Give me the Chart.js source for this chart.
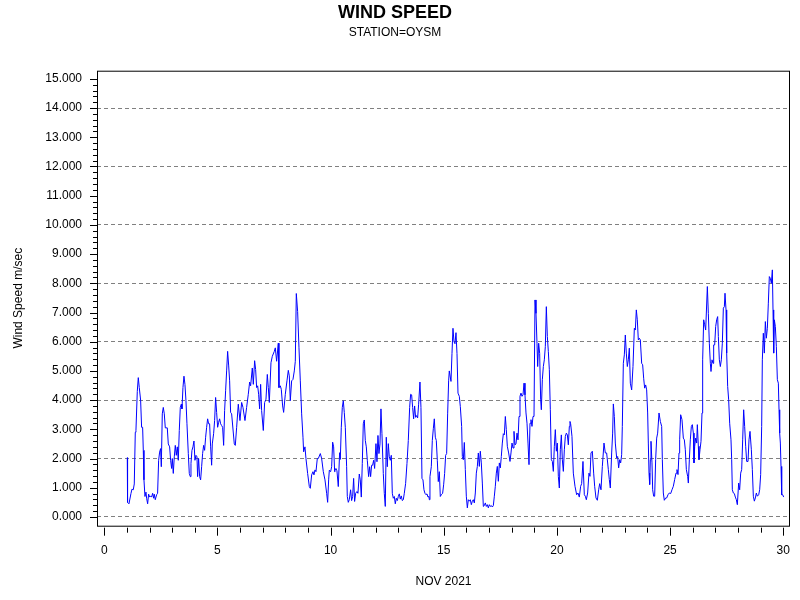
<!DOCTYPE html>
<html lang="en">
<head>
    <meta charset="UTF-8">
    <title>Wind Speed</title>
    <script src="https://cdn.jsdelivr.net/npm/chart.js"></script>
    <style>
        body { margin: 0; background: #fff; }
        #chart { display: block; }
    </style>
</head>
<body>
    <canvas id="chart" width="800" height="600"></canvas>

    <script>
        // Hourly-ish readings, x = day of November 2021, y = wind speed (m/sec)
        const days = [
            1.018, 1.030, 1.092, 1.180, 1.224, 1.283, 1.327, 1.372, 1.401, 1.460, 1.504, 1.548, 1.607, 1.651, 1.696, 1.725, 1.755, 1.799, 1.843, 1.872, 1.917, 1.961,
            2.005, 2.049, 2.093, 2.138, 2.182, 2.211, 2.255, 2.314, 2.358, 2.403, 2.447, 2.491, 2.521, 2.565, 2.609, 2.653, 2.697, 2.786, 2.830, 2.889, 2.933, 2.977,
            3.007, 3.051, 3.095, 3.139, 3.183, 3.228, 3.272, 3.316, 3.360, 3.404, 3.434, 3.478, 3.522, 3.566, 3.611, 3.655, 3.714, 3.758, 3.802, 3.832, 3.876, 3.920, 3.964,
            4.008, 4.052, 4.097, 4.126, 4.170, 4.214, 4.259, 4.303, 4.347, 4.391, 4.435, 4.480, 4.524, 4.568, 4.612, 4.656, 4.701, 4.745, 4.774, 4.833, 4.877, 4.921, 4.966,
            5.010, 5.054, 5.098, 5.142, 5.187, 5.231, 5.275, 5.319, 5.363, 5.408, 5.452, 5.496, 5.540, 5.584, 5.629, 5.746, 5.791, 5.850, 5.923, 5.997,
            6.071, 6.129, 6.218, 6.291, 6.365, 6.424, 6.468, 6.542, 6.586, 6.645, 6.689, 6.733, 6.778, 6.822, 6.866, 6.910, 6.954,
            7.028, 7.087, 7.146, 7.205, 7.249, 7.293, 7.367, 7.426, 7.514, 7.558, 7.617, 7.691, 7.720, 7.779, 7.823, 7.882, 7.926,
            8.000, 8.074, 8.133, 8.177, 8.221, 8.280, 8.339, 8.398, 8.442, 8.486, 8.545, 8.604, 8.663, 8.722, 8.781, 8.810, 8.869, 8.913, 8.987,
            9.061, 9.105, 9.164, 9.223, 9.267, 9.311, 9.355, 9.414, 9.458, 9.547, 9.606, 9.679, 9.753, 9.827, 9.871, 9.915, 9.945,
            10.003, 10.048, 10.092, 10.136, 10.180, 10.194, 10.238, 10.282, 10.341, 10.400, 10.430, 10.474, 10.518, 10.562, 10.606, 10.651, 10.710, 10.739, 10.783, 10.827, 10.886, 10.930, 10.975,
            11.019, 11.063, 11.107, 11.166, 11.210, 11.269, 11.313, 11.358, 11.402, 11.446, 11.490, 11.534, 11.579, 11.623, 11.682, 11.726, 11.770, 11.814, 11.858, 11.903, 11.947,
            12.006, 12.050, 12.094, 12.138, 12.183, 12.227, 12.271, 12.330, 12.374, 12.418, 12.462, 12.507, 12.551, 12.595, 12.639, 12.683, 12.728, 12.772, 12.816, 12.860, 12.904, 12.949, 12.993,
            13.037, 13.081, 13.125, 13.169, 13.214, 13.258, 13.317, 13.376, 13.435, 13.494, 13.538, 13.582, 13.626, 13.670, 13.714, 13.759, 13.803, 13.847, 13.891, 13.950, 13.994,
            14.039, 14.083, 14.127, 14.171, 14.215, 14.260, 14.304, 14.348, 14.363, 14.392, 14.451, 14.495, 14.540, 14.584, 14.628, 14.672, 14.716, 14.760, 14.805, 14.849, 14.893, 14.952, 14.996,
            15.040, 15.084, 15.129, 15.173, 15.217, 15.246, 15.321, 15.365, 15.409, 15.453, 15.498, 15.542, 15.586, 15.630, 15.689, 15.733, 15.792, 15.822, 15.866, 15.910, 15.954, 15.998,
            16.043, 16.087, 16.131, 16.175, 16.219, 16.264, 16.308, 16.352, 16.396, 16.440, 16.485, 16.529, 16.573, 16.617, 16.661, 16.706, 16.750, 16.794, 16.838, 16.882, 16.926, 16.971,
            17.015, 17.059, 17.103, 17.147, 17.192, 17.236, 17.280, 17.324, 17.368, 17.413, 17.457, 17.501, 17.545, 17.589, 17.634, 17.678, 17.722, 17.766, 17.810, 17.869, 17.928, 17.972,
            18.017, 18.061, 18.105, 18.149, 18.193, 18.238, 18.282, 18.326, 18.370, 18.414, 18.459, 18.503, 18.547, 18.591, 18.635, 18.680, 18.724, 18.768, 18.812, 18.856, 18.900, 18.945, 18.989,
            19.033, 19.077, 19.121, 19.151, 19.195, 19.239, 19.283, 19.313, 19.357, 19.401, 19.445, 19.489, 19.534, 19.578, 19.622, 19.666, 19.710, 19.755, 19.799, 19.843, 19.887, 19.931, 19.976,
            20.020, 20.064, 20.108, 20.152, 20.197, 20.241, 20.285, 20.329, 20.373, 20.418, 20.462, 20.506, 20.550, 20.579, 20.608, 20.667, 20.726, 20.800, 20.873, 20.932, 20.991,
            21.050, 21.094, 21.153, 21.212, 21.256, 21.301, 21.359, 21.418, 21.463, 21.507, 21.566, 21.625, 21.669, 21.728, 21.787, 21.846, 21.890, 21.949,
            22.008, 22.081, 22.140, 22.199, 22.273, 22.317, 22.361, 22.420, 22.464, 22.494, 22.538, 22.582, 22.641, 22.685, 22.729, 22.774, 22.818, 22.862, 22.891, 22.936, 22.980,
            23.024, 23.068, 23.112, 23.157, 23.201, 23.245, 23.304, 23.363, 23.422, 23.466, 23.510, 23.554, 23.598, 23.643, 23.687, 23.746, 23.790, 23.834, 23.878, 23.923, 23.967,
            24.011, 24.040, 24.070, 24.099, 24.129, 24.158, 24.202, 24.232, 24.276, 24.320, 24.364, 24.409, 24.453, 24.512, 24.571, 24.630, 24.659, 24.703, 24.747, 24.806, 24.851, 24.909, 24.968,
            25.027, 25.086, 25.145, 25.204, 25.263, 25.307, 25.352, 25.396, 25.425, 25.469, 25.528, 25.587, 25.631, 25.675, 25.720, 25.778, 25.808, 25.852, 25.896, 25.941, 25.985,
            26.029, 26.058, 26.088, 26.132, 26.176, 26.206, 26.250, 26.279, 26.324, 26.368, 26.412, 26.441, 26.486, 26.530, 26.574, 26.648, 26.692, 26.736, 26.780, 26.810, 26.854, 26.898, 26.927, 26.972,
            27.016, 27.060, 27.104, 27.134, 27.178, 27.222, 27.266, 27.310, 27.355, 27.399, 27.428, 27.473, 27.502, 27.546, 27.590, 27.635, 27.693, 27.723, 27.752, 27.797, 27.841, 27.885, 27.929, 27.973,
            28.032, 28.076, 28.121, 28.165, 28.209, 28.253, 28.297, 28.342, 28.386, 28.445, 28.489, 28.533, 28.592, 28.636, 28.680, 28.725, 28.769, 28.813, 28.857, 28.916, 28.960,
            29.004, 29.049, 29.078, 29.122, 29.166, 29.211, 29.255, 29.299, 29.343, 29.387, 29.432, 29.476, 29.520, 29.549, 29.579, 29.608, 29.653, 29.697, 29.741, 29.785, 29.815, 29.844, 29.874, 29.903, 29.933, 29.977,
            30.021
        ];
        const speed = [
            2.03, 0.50, 0.45, 0.80, 0.95, 0.93, 1.13, 2.90, 2.96, 4.30, 4.77, 4.43, 4.00, 3.07, 3.07, 2.28, 1.27, 0.70, 0.85, 0.64, 0.45, 0.78,
            0.68, 0.72, 0.68, 0.81, 0.64, 0.78, 0.59, 0.76, 0.81, 1.94, 2.22, 2.34, 1.72, 3.53, 3.75, 3.53, 3.05, 3.05, 2.50, 2.40, 1.94, 1.66,
            2.00, 1.49, 2.06, 2.45, 2.11, 2.40, 1.94, 2.96, 3.75, 3.86, 3.70, 4.43, 4.82, 4.54, 3.98, 3.19, 2.17, 1.49, 1.38, 1.83, 2.28, 2.40, 2.60,
            1.94, 2.11, 2.06, 1.38, 2.00, 1.38, 1.27, 1.72, 2.17, 2.45, 2.28, 2.73, 3.07, 3.36, 3.19, 3.19, 2.40, 1.77, 2.50, 2.85, 3.30, 4.09, 3.58,
            3.07, 3.24, 3.36, 3.19, 3.13, 3.07, 2.45, 3.64, 4.32, 5.00, 5.67, 5.20, 4.66, 3.58, 3.53, 2.50, 2.45, 3.07, 3.86, 3.30,
            3.92, 3.75, 3.30, 3.75, 4.20, 4.62, 4.49, 5.10, 4.54, 5.35, 5.05, 4.43, 4.49, 4.20, 3.70, 4.54, 3.64,
            2.96, 3.92, 4.03, 4.88, 4.43, 3.92, 5.28, 5.50, 5.67, 5.79, 5.33, 5.95, 4.43, 4.49, 4.37, 3.80, 3.58,
            4.20, 4.66, 5.02, 4.83, 3.98, 4.66, 4.71, 5.00, 5.33, 7.65, 7.03, 5.79, 4.66, 3.53, 2.73, 2.23, 2.40, 2.00, 1.49,
            1.04, 0.98, 1.44, 1.55, 1.44, 1.61, 1.55, 2.00, 2.00, 2.17, 2.00, 1.55, 1.27, 0.81, 0.50, 1.27, 1.60,
            1.55, 1.72, 2.56, 2.40, 1.55, 1.60, 1.66, 1.58, 1.04, 2.20, 1.97, 3.07, 3.75, 3.98, 3.58, 3.07, 1.72, 0.70, 0.50, 0.59, 0.93, 0.56, 0.70,
            1.32, 0.53, 0.81, 0.87, 0.81, 1.47, 1.27, 0.68, 1.83, 3.19, 3.32, 2.62, 2.40, 1.94, 1.38, 1.72, 1.38, 1.77, 1.77, 1.94, 1.66,
            2.51, 1.89, 2.79, 2.17, 2.50, 3.70, 2.85, 1.49, 0.81, 0.36, 2.73, 1.72, 2.51, 2.06, 1.94, 2.11, 0.81, 0.64, 0.70, 0.45, 0.64, 0.56, 0.70,
            0.79, 0.61, 0.72, 0.56, 0.59, 0.81, 1.15, 1.83, 2.62, 3.75, 4.20, 4.18, 3.75, 3.36, 3.80, 3.41, 3.47, 3.39, 3.86, 4.62, 3.75,
            1.32, 1.27, 0.93, 0.81, 0.76, 0.79, 0.68, 0.70, 0.59, 1.38, 1.72, 2.62, 3.02, 3.36, 2.73, 2.62, 1.94, 1.21, 1.55, 0.70, 0.76, 0.81, 1.10,
            1.49, 2.11, 2.17, 3.53, 4.66, 5.00, 4.64, 5.60, 6.46, 6.00, 5.93, 6.31, 5.60, 4.24, 4.13, 3.78, 3.10, 2.07, 1.96, 2.55, 1.62, 0.71,
            0.31, 0.59, 0.54, 0.59, 0.42, 0.54, 0.59, 0.48, 0.82, 1.50, 1.73, 2.19, 1.73, 2.25, 1.85, 1.16, 0.36, 0.39, 0.48, 0.36, 0.42, 0.31,
            0.42, 0.36, 0.39, 0.34, 0.39, 0.71, 1.05, 1.50, 1.73, 1.22, 1.85, 1.68, 2.07, 2.53, 2.85, 2.81, 3.44, 2.99, 2.42, 2.19, 1.90, 2.19,
            2.53, 2.36, 2.93, 2.47, 2.50, 2.87, 2.64, 3.44, 4.13, 4.24, 4.13, 4.18, 4.58, 4.18, 3.56, 3.21, 2.53, 1.79, 3.21, 3.33, 3.10, 3.44, 3.44,
            7.43, 6.97, 5.95, 5.15, 5.95, 5.60, 4.01, 3.67, 4.70, 5.15, 5.38, 5.83, 7.20, 6.18, 5.66, 5.04, 3.67, 1.96, 1.90, 1.56, 2.42, 2.99, 2.25,
            2.53, 1.39, 0.99, 2.30, 2.81, 1.96, 1.56, 2.30, 2.76, 2.87, 2.81, 2.47, 3.10, 3.27, 3.19, 2.76, 1.50, 1.05, 0.76, 0.82, 0.68,
            1.05, 1.14, 1.90, 0.76, 0.71, 0.59, 0.82, 1.50, 1.39, 2.19, 2.25, 1.50, 1.05, 0.65, 0.57, 0.93, 1.14, 0.93,
            1.73, 2.53, 2.19, 2.19, 1.62, 1.28, 0.99, 2.19, 2.87, 3.87, 3.44, 2.53, 2.02, 2.07, 1.68, 1.96, 1.85, 2.13, 3.10, 5.26, 5.55,
            6.23, 5.61, 5.15, 5.38, 5.78, 4.58, 4.35, 5.15, 6.46, 6.40, 7.09, 6.75, 6.06, 6.12, 6.06, 5.26, 5.21, 4.75, 4.41, 4.52, 4.35,
            3.56, 2.53, 1.50, 1.11, 1.96, 2.59, 1.85, 0.93, 0.71, 0.71, 1.96, 2.70, 2.87, 3.56, 3.27, 3.10, 1.96, 0.82, 0.57, 0.65, 0.65, 0.76, 0.82,
            0.80, 0.93, 1.05, 1.28, 1.50, 1.62, 1.45, 2.19, 2.64, 3.50, 3.33, 2.70, 2.64, 2.30, 1.62, 1.39, 1.16, 1.96, 2.64, 3.10, 3.16,
            2.87, 1.85, 2.42, 2.70, 2.53, 3.16, 2.42, 1.96, 2.30, 2.59, 3.56, 5.38, 6.75, 6.58, 6.40, 7.89, 6.97, 5.95, 5.26, 4.98, 5.38, 5.26, 5.89, 5.89,
            6.52, 6.75, 6.86, 6.18, 5.38, 5.15, 5.38, 5.95, 7.15, 7.20, 7.66, 7.09, 5.61, 4.47, 4.01, 3.21, 2.64, 1.96, 0.93, 0.82, 0.80, 0.68, 0.59, 0.42,
            1.16, 0.93, 1.50, 1.62, 2.64, 3.67, 3.10, 2.42, 1.90, 1.90, 2.64, 2.93, 2.30, 1.62, 0.71, 0.54, 0.65, 0.82, 0.71, 0.76, 0.93,
            1.45, 3.10, 5.38, 6.29, 5.61, 6.69, 6.12, 6.46, 7.32, 8.23, 8.17, 8.00, 8.46, 7.09, 5.61, 6.75, 6.52, 5.83, 4.70, 4.58, 3.67, 2.87, 2.53, 1.73, 0.76, 0.76,
            0.68
        ];

        const xTicks = [0, 5, 10, 15, 20, 25, 30];
        const yTicks = [0, 1, 2, 3, 4, 5, 6, 7, 8, 9, 10, 11, 12, 13, 14, 15];
        const yGrid = [0, 2, 4, 6, 8, 10, 12, 14];

        const FONT = "Arial, 'Liberation Sans', sans-serif";

        // frame around the plot plus minor tick marks (SAS style)
        const framePlugin = {
            id: 'frame',
            afterDraw(chart) {
                const { ctx, chartArea: a, scales: { x, y } } = chart;
                ctx.save();
                ctx.strokeStyle = '#000';
                ctx.lineWidth = 1;
                ctx.strokeRect(a.left + 0.5, a.top + 0.5, a.right - a.left - 1, a.bottom - a.top);

                ctx.beginPath();
                // y ticks: major every 1, minor every 0.2
                for (let i = 0; i <= 75; i++) {
                    const v = i / 5;
                    const py = Math.round(y.getPixelForValue(v)) + 0.5;
                    const len = (i % 5 === 0) ? 7 : 4;
                    ctx.moveTo(a.left - len, py);
                    ctx.lineTo(a.left, py);
                }
                // x ticks: major every 5, minor every 1, offset just below the frame
                for (let d = 0; d <= 30; d++) {
                    const px = Math.round(x.getPixelForValue(d)) + 0.5;
                    const len = (d % 5 === 0) ? 8 : 5;
                    ctx.moveTo(px, a.bottom + 2);
                    ctx.lineTo(px, a.bottom + 2 + len);
                }
                ctx.stroke();
                ctx.restore();
            }
        };

        const points = days.map((d, i) => ({ x: d, y: speed[i] }));

        new Chart(document.getElementById('chart'), {
            type: 'line',
            data: {
                datasets: [{
                    label: 'Wind Speed',
                    data: points,
                    borderColor: '#0000ff',
                    borderWidth: 1,
                    pointRadius: 0,
                    fill: false,
                    tension: 0
                }]
            },
            options: {
                responsive: false,
                animation: false,
                layout: { padding: { left: 0, right: 10, top: 0, bottom: 0 } },
                plugins: {
                    legend: { display: false },
                    tooltip: { enabled: false },
                    title: {
                        display: true,
                        text: 'WIND SPEED',
                        color: '#000',
                        font: { family: FONT, size: 18, weight: 'bold' },
                        padding: { top: 2, bottom: 2 }
                    },
                    subtitle: {
                        display: true,
                        text: 'STATION=OYSM',
                        color: '#000',
                        font: { family: FONT, size: 12 },
                        padding: { top: 0, bottom: 30.7 }
                    }
                },
                scales: {
                    x: {
                        type: 'linear',
                        min: -0.32,
                        max: 30.3,
                        afterBuildTicks: s => { s.ticks = xTicks.map(v => ({ value: v })); },
                        afterFit: s => { s.height = 74.3; },
                        // invisible tick marks only push the labels down; real ticks come from the frame plugin
                        grid: { drawOnChartArea: false, drawTicks: true, tickLength: 18, tickColor: 'rgba(0,0,0,0)' },
                        border: { display: false },
                        ticks: {
                            color: '#000',
                            padding: 0,
                            maxRotation: 0,
                            font: { family: FONT, size: 12 },
                            callback: v => String(v)
                        },
                        title: {
                            display: true,
                            text: 'NOV 2021',
                            color: '#000',
                            font: { family: FONT, size: 12 },
                            padding: { top: 0, bottom: 11 }
                        }
                    },
                    y: {
                        type: 'linear',
                        min: -0.3,
                        max: 15.28,
                        afterBuildTicks: s => { s.ticks = yTicks.map(v => ({ value: v })); },
                        afterFit: s => { s.width = 97; },
                        grid: {
                            drawTicks: false,
                            color: c => yGrid.includes(c.tick && c.tick.value) ? '#808080' : 'rgba(0,0,0,0)',
                            lineWidth: 1
                        },
                        border: { display: false, dash: [4, 3] },
                        ticks: {
                            color: '#000',
                            padding: 15,
                            font: { family: FONT, size: 12 },
                            callback: v => Number(v).toFixed(3)
                        },
                        title: {
                            display: true,
                            text: 'Wind Speed m/sec',
                            color: '#000',
                            font: { family: FONT, size: 12 },
                            padding: { top: 11.5, bottom: 0 }
                        }
                    }
                }
            },
            plugins: [framePlugin]
        });
    </script>
</body>
</html>
